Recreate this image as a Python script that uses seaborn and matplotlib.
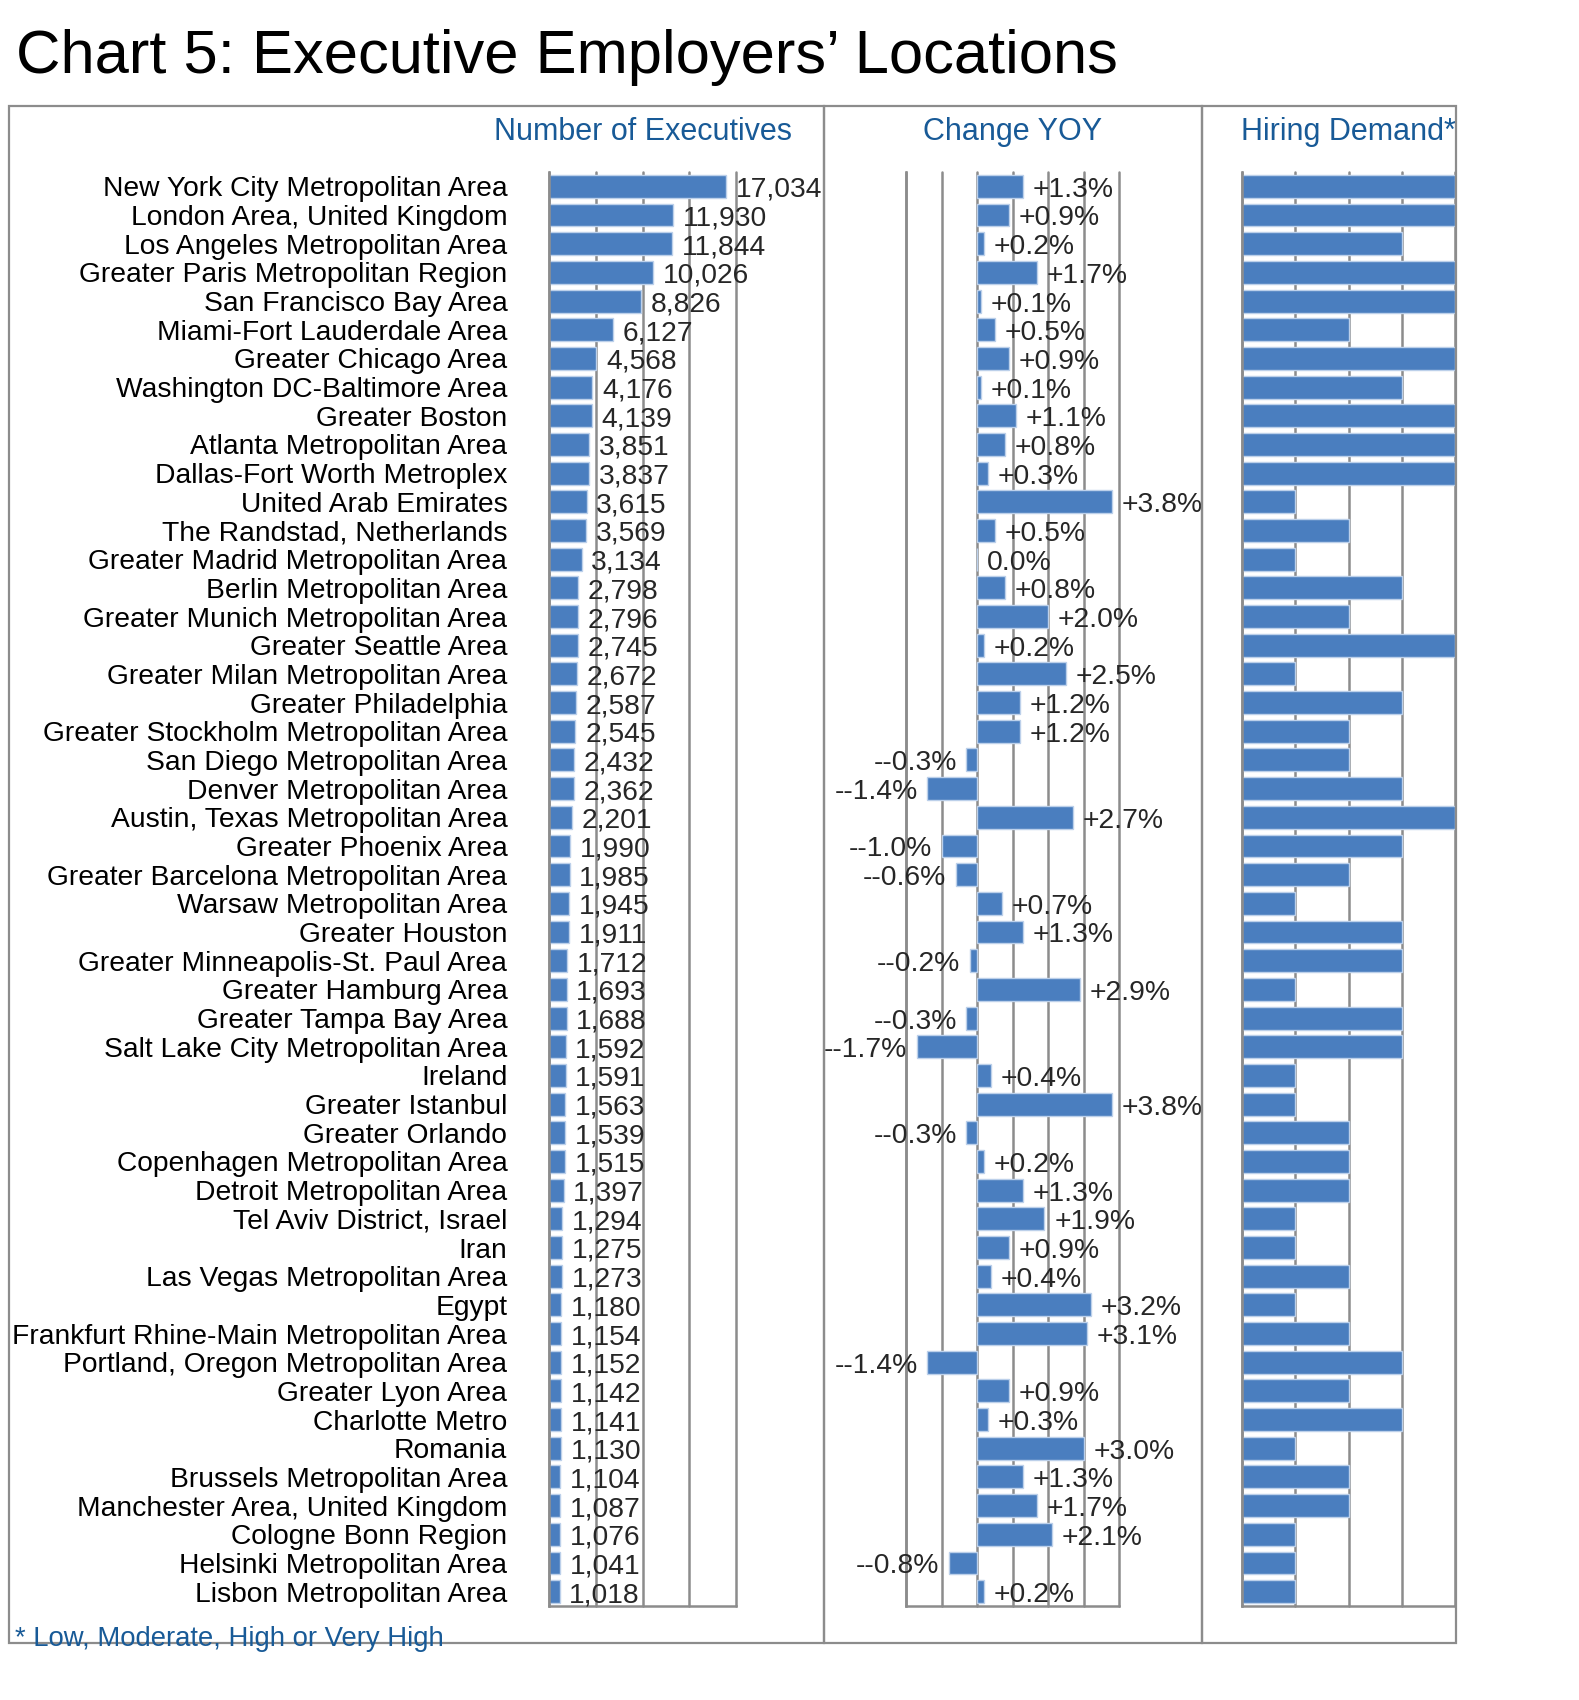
"""Chart 5: Executive Employers' Locations - three aligned bar panels."""

import numpy as np
import pandas as pd
import matplotlib
matplotlib.use("Agg")
import matplotlib.pyplot as plt
from matplotlib.patches import Rectangle
import seaborn as sns

# ---- data ----
locations = [
    "New York City Metropolitan Area", "London Area, United Kingdom",
    "Los Angeles Metropolitan Area", "Greater Paris Metropolitan Region",
    "San Francisco Bay Area", "Miami-Fort Lauderdale Area",
    "Greater Chicago Area", "Washington DC-Baltimore Area",
    "Greater Boston", "Atlanta Metropolitan Area",
    "Dallas-Fort Worth Metroplex", "United Arab Emirates",
    "The Randstad, Netherlands", "Greater Madrid Metropolitan Area",
    "Berlin Metropolitan Area", "Greater Munich Metropolitan Area",
    "Greater Seattle Area", "Greater Milan Metropolitan Area",
    "Greater Philadelphia", "Greater Stockholm Metropolitan Area",
    "San Diego Metropolitan Area", "Denver Metropolitan Area",
    "Austin, Texas Metropolitan Area", "Greater Phoenix Area",
    "Greater Barcelona Metropolitan Area", "Warsaw Metropolitan Area",
    "Greater Houston", "Greater Minneapolis-St. Paul Area",
    "Greater Hamburg Area", "Greater Tampa Bay Area",
    "Salt Lake City Metropolitan Area", "Ireland",
    "Greater Istanbul", "Greater Orlando",
    "Copenhagen Metropolitan Area", "Detroit Metropolitan Area",
    "Tel Aviv District, Israel", "Iran",
    "Las Vegas Metropolitan Area", "Egypt",
    "Frankfurt Rhine-Main Metropolitan Area", "Portland, Oregon Metropolitan Area",
    "Greater Lyon Area", "Charlotte Metro",
    "Romania", "Brussels Metropolitan Area",
    "Manchester Area, United Kingdom", "Cologne Bonn Region",
    "Helsinki Metropolitan Area", "Lisbon Metropolitan Area",
]

executives = [
    17034, 11930, 11844, 10026, 8826, 6127, 4568, 4176, 4139, 3851,
    3837, 3615, 3569, 3134, 2798, 2796, 2745, 2672, 2587, 2545,
    2432, 2362, 2201, 1990, 1985, 1945, 1911, 1712, 1693, 1688,
    1592, 1591, 1563, 1539, 1515, 1397, 1294, 1275, 1273, 1180,
    1154, 1152, 1142, 1141, 1130, 1104, 1087, 1076, 1041, 1018,
]

change_yoy = [
    1.3, 0.9, 0.2, 1.7, 0.1, 0.5, 0.9, 0.1, 1.1, 0.8,
    0.3, 3.8, 0.5, 0.0, 0.8, 2.0, 0.2, 2.5, 1.2, 1.2,
    -0.3, -1.4, 2.7, -1.0, -0.6, 0.7, 1.3, -0.2, 2.9, -0.3,
    -1.7, 0.4, 3.8, -0.3, 0.2, 1.3, 1.9, 0.9, 0.4, 3.2,
    3.1, -1.4, 0.9, 0.3, 3.0, 1.3, 1.7, 2.1, -0.8, 0.2,
]

# 1 = Low, 2 = Moderate, 3 = High, 4 = Very High
hiring_demand = [
    4, 4, 3, 4, 4, 2, 4, 3, 4, 4,
    4, 1, 2, 1, 3, 2, 4, 1, 3, 2,
    2, 3, 4, 3, 2, 1, 3, 3, 1, 3,
    3, 1, 1, 2, 2, 2, 1, 1, 2, 1,
    2, 3, 2, 3, 1, 2, 2, 1, 1, 1,
]

df = pd.DataFrame({
    "Location": locations,
    "Executives": executives,
    "Change": change_yoy,
    "Demand": hiring_demand,
})

# ---- style ----
sns.set_theme(style="white")
plt.rcParams["font.family"] = ["Liberation Sans", "DejaVu Sans"]

BAR = "#4a7ebf"
EDGE = "#bcd0ea"
GRID = "#8c8c8c"
BLUE = "#185a97"
LABEL_SIZE = 20.3

W, H = 1579, 1700
AX_TOP, AX_BOTTOM = 172, 1606
FRAME_TOP, FRAME_BOTTOM = 106, 1643
fig = plt.figure(figsize=(W / 100, H / 100), dpi=100)


def px_axes(x0, x1, top=AX_TOP, bottom=AX_BOTTOM):
    return fig.add_axes([x0 / W, (H - bottom) / H, (x1 - x0) / W, (bottom - top) / H])


def style_axis(ax, ticks):
    ax.set_axisbelow(True)
    ax.set_xticks(ticks)
    ax.xaxis.grid(True, color=GRID, linewidth=1.8)
    for line in ax.get_xgridlines():
        line.set_clip_on(False)
    ax.yaxis.grid(False)
    for side in ("top", "right"):
        ax.spines[side].set_visible(False)
    for side in ("left", "bottom"):
        ax.spines[side].set_color(GRID)
        ax.spines[side].set_linewidth(1.8)
    ax.set_yticks(np.arange(-0.5, len(locations), 1), minor=True)
    ax.tick_params(axis="x", length=6, width=1.8, color=GRID, labelbottom=False, direction="out")
    ax.tick_params(axis="y", which="minor", length=6, width=1.8, color=GRID, direction="out")
    ax.tick_params(axis="y", which="major", length=0)
    ax.set_ylim(len(locations) - 0.5, -0.5)
    ax.set_xlabel("")
    ax.set_ylabel("")


def add_labels(ax, labels):
    texts = ax.bar_label(ax.containers[0], labels=labels, padding=7, fontsize=LABEL_SIZE)
    # nudge labels slightly below bar centre, as in the source
    for t in texts:
        dx, _ = t.xyann
        t.xyann = (dx, -2.5)


bar_kw = dict(orient="y", color=BAR, saturation=1, edgecolor=EDGE,
              linewidth=1, width=0.8, errorbar=None)

# panel 1: number of executives
ax1 = px_axes(549, 736)
sns.barplot(data=df, x="Executives", y="Location", ax=ax1, **bar_kw)
style_axis(ax1, np.linspace(0, 18000, 5))
ax1.set_xlim(0, 18000)
ax1.tick_params(axis="y", which="major", labelsize=LABEL_SIZE, pad=30, labelcolor="black")
add_labels(ax1, [f"{v:,}" for v in executives])
ax1.set_title("Number of Executives", color=BLUE, fontsize=22, pad=23)

# panel 2: change year on year
ax2 = px_axes(906, 1119)
sns.barplot(data=df, x="Change", y="Location", ax=ax2, **bar_kw)
style_axis(ax2, np.arange(-2, 5, 1))
ax2.set_xlim(-2, 4)
ax2.tick_params(axis="y", which="major", labelleft=False)
change_labels = [f"+{v:.1f}%" if v > 0 else (f"-{v:.1f}%" if v < 0 else f"{v:.1f}%")
                 for v in change_yoy]
add_labels(ax2, change_labels)
ax2.set_title("Change YOY", color=BLUE, fontsize=22, pad=23)

# panel 3: hiring demand
ax3 = px_axes(1242, 1455)
sns.barplot(data=df, x="Demand", y="Location", ax=ax3, **bar_kw)
style_axis(ax3, np.arange(0, 5, 1))
ax3.set_xlim(0, 4)
ax3.tick_params(axis="y", which="major", labelleft=False)
ax3.set_title("Hiring Demand*", color=BLUE, fontsize=22, pad=23)

# panel frames
for x0, x1 in [(9, 824), (824, 1202), (1202, 1456)]:
    fig.add_artist(Rectangle((x0 / W, (H - FRAME_BOTTOM) / H), (x1 - x0) / W,
                             (FRAME_BOTTOM - FRAME_TOP) / H,
                             transform=fig.transFigure, fill=False,
                             edgecolor=GRID, linewidth=1.6))

fig.text(16 / W, (H - 73) / H, "Chart 5: Executive Employers\u2019 Locations",
         fontsize=44.3, ha="left", va="baseline", color="black")
fig.text(15 / W, (H - 1646) / H, "* Low, Moderate, High or Very High",
         fontsize=19.8, ha="left", va="baseline", color=BLUE)

fig.savefig("out.png", dpi=100)
plt.close(fig)
